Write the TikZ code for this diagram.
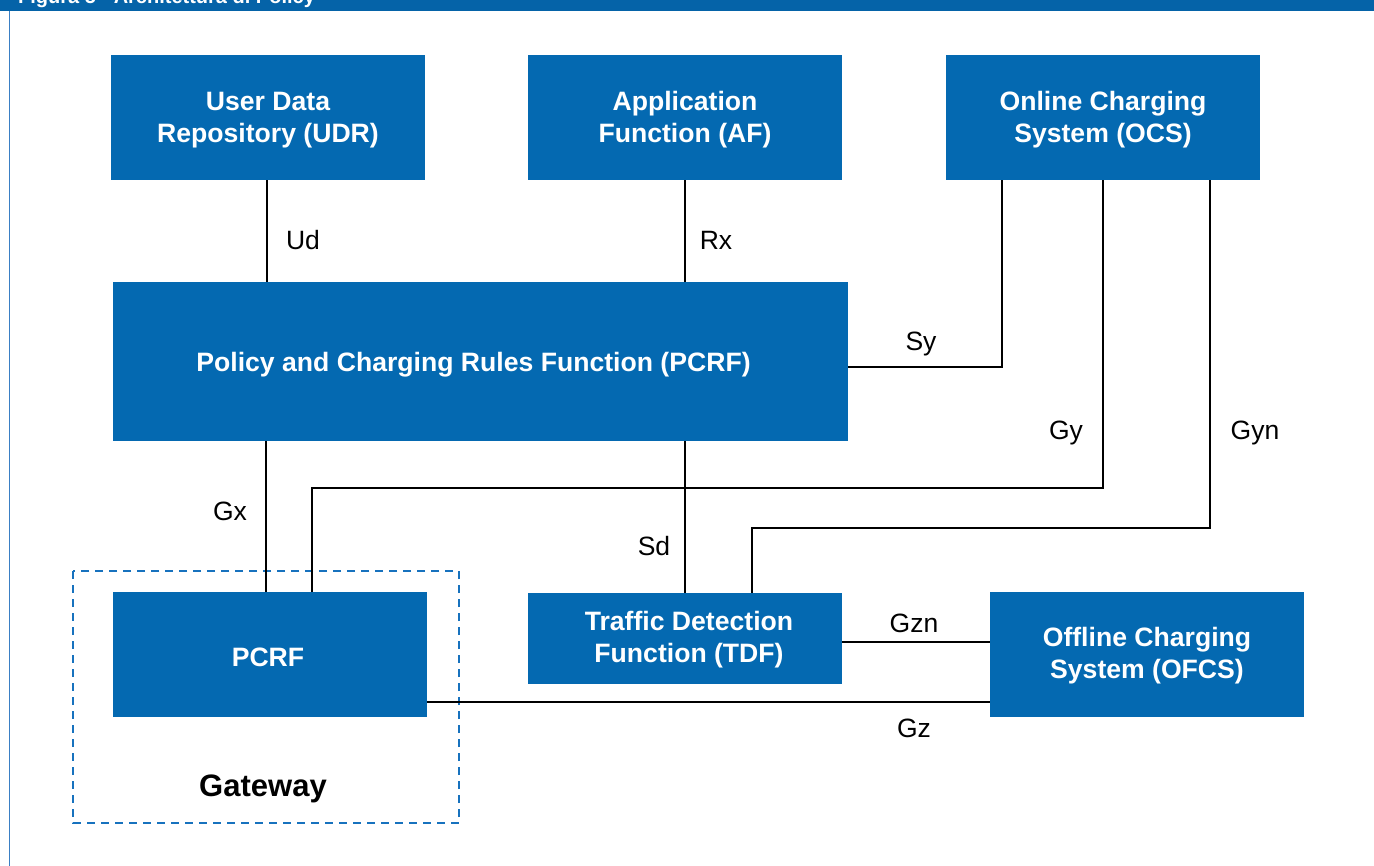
\documentclass[tikz,border=0pt]{standalone}
\usepackage{fontspec}
\setmainfont{Liberation Sans}
\definecolor{boxblue}{HTML}{0469B1}
\definecolor{barblue}{HTML}{0563A8}
\definecolor{dashblue}{HTML}{1772BE}
\definecolor{edgeblue}{HTML}{3A7FC4}
\begin{document}
\begin{tikzpicture}[x=1pt,y=-1pt,
  box/.style={fill=boxblue, inner sep=0pt},
  boxtext/.style={text=white, inner sep=0pt, align=center,
    font=\fontsize{26.6}{32}\selectfont\bfseries},
  wide/.style={minimum width=314pt, minimum height=125pt},
  conn/.style={draw=black, line width=2.4pt},
  lbl/.style={font=\fontsize{26.5}{30}\selectfont, text=black, inner sep=0pt}]
\useasboundingbox (0,0) rectangle (1374,866);
\fill[white] (0,0) rectangle (1374,866);
% header
\begin{scope}
\clip (0,0) rectangle (1374,11.5);
\fill[barblue] (0,0) rectangle (1374,11.5);
\node[anchor=base west, text=white, inner sep=0pt, font=\fontsize{20}{22}\selectfont\bfseries] (title) at (18,4) {Figura 5 - Architettura di Policy};
\end{scope}
\draw[edgeblue, line width=1.2pt] (9.5,11.5) -- (9.5,866);
% boxes
\node[box, wide] (udr) at (268,117.5) {};
\node[boxtext] (udrt) at ([yshift=-2.5pt]udr.center) {User Data\\Repository (UDR)};
\node[box, wide] (af) at (685,117.5) {};
\node[boxtext] (aft) at ([yshift=-2.5pt]af.center) {Application\\Function (AF)};
\node[box, wide] (ocs) at (1103,117.5) {};
\node[boxtext] (ocst) at ([yshift=-2.5pt]ocs.center) {Online Charging\\System (OCS)};
\node[box, minimum width=735pt, minimum height=159pt] (pcrf) at (480.5,361.5) {};
\node[boxtext] (pcrft) at ([xshift=-7pt,yshift=-3pt]pcrf.center) {Policy and Charging Rules Function (PCRF)};
\node[box, wide] (pcrfs) at (270,654.5) {};
\node[boxtext] (pcrfst) at ([xshift=-2pt,yshift=-2.5pt]pcrfs.center) {PCRF};
\node[box, minimum width=314pt, minimum height=91pt] (tdf) at (685,638.5) {};
\node[boxtext] (tdft) at ([xshift=4pt,yshift=-1pt]tdf.center) {Traffic Detection\\Function (TDF)};
\node[box, wide] (ofcs) at (1147,654.5) {};
\node[boxtext] (ofcst) at ([yshift=-1.5pt]ofcs.center) {Offline Charging\\System (OFCS)};
% gateway
\draw[dashblue, line width=2.5pt, dash pattern=on 8pt off 6pt] (73,571) rectangle (459,823);
\node[text=black, inner sep=0pt, font=\fontsize{31}{36}\selectfont\bfseries] (gw) at (263,789) {Gateway};
% connectors
\draw[conn] (udr.south -| 267,0) -- (pcrf.north -| 267,0);
\draw[conn] (af.south) -- (af.south |- pcrf.north);
\draw[conn] (pcrf.east |- 0,367) -- (1002,367) -- (ocs.south -| 1002,0);
\draw[conn] (ocs.south -| 1103,0) -- (1103,488) -- (312,488) -- (pcrfs.north -| 312,0);
\draw[conn] (ocs.south -| 1210,0) -- (1210,528) -- (752,528) -- (tdf.north -| 752,0);
\draw[conn] (pcrf.south -| 266,0) -- (pcrfs.north -| 266,0);
\draw[conn] (pcrf.south -| 685,0) -- (tdf.north);
\draw[conn] (tdf.east |- 0,642) -- (ofcs.west |- 0,642);
\draw[conn] (pcrfs.east |- 0,702) -- (ofcs.west |- 0,702);
% labels
\node[lbl] (lud) at (303,240) {Ud};
\node[lbl] (lrx) at (716,240) {Rx};
\node[lbl] (lsy) at (921,344) {Sy};
\node[lbl] (lgy) at (1066,433) {Gy};
\node[lbl] (lgyn) at (1255,433) {Gyn};
\node[lbl] (lgx) at (230,511) {Gx};
\node[lbl] (lsd) at (654,546) {Sd};
\node[lbl] (lgzn) at (914,623) {Gzn};
\node[lbl] (lgz) at (914,728) {Gz};
\end{tikzpicture}
\end{document}
